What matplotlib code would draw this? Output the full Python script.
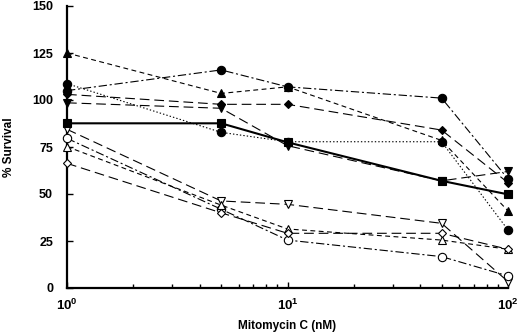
import matplotlib
matplotlib.use("Agg")
import matplotlib.pyplot as plt

# Mitomycin C dose (nM)
dose = [1, 5, 10, 50, 100]

# % survival, one list per cell line
circle_dashdot = [105, 116, 107, 101, 58]
triangle_filled = [125, 103.5, 107, 78.5, 41]
diamond_filled = [103, 97.7, 97.7, 84, 56]
tri_down_filled = [98.5, 95.6, 75.7, 57, 62]
square_filled = [87.6, 87.6, 77.5, 57, 49.8]
circle_dotted = [108.7, 82.8, 77.8, 77.8, 30.9]
tri_down_open = [84.4, 46.3, 44.5, 34.4, 3.4]
circle_open = [79.6, 41.9, 25.5, 16.7, 6.4]
triangle_open = [75.2, 44.1, 31.4, 25.5, 20.6]
diamond_open = [66.3, 40, 29.1, 29.1, 20.6]

y_ticks = [0, 25, 50, 75, 100, 125, 150]
x_ticks = [1, 10, 100]
x_tick_labels = [r"$10^{0}$", r"$10^{1}$", r"$10^{2}$"]


def main():
    plt.rcParams["font.family"] = ["Liberation Sans", "DejaVu Sans"]
    plt.rcParams["font.weight"] = "bold"
    plt.rcParams["mathtext.fontset"] = "custom"
    plt.rcParams["mathtext.rm"] = "Liberation Sans:bold"
    plt.rcParams["mathtext.bf"] = "Liberation Sans:bold"
    plt.rcParams["lines.scale_dashes"] = False

    fig = plt.figure(figsize=(5.2, 3.36), dpi=100)
    ax = fig.add_axes([67 / 520, 48 / 336, 441 / 520, 282 / 336])

    long_dash = (0, (7, 3.5))
    short_dash = (0, (3.5, 2.5))
    dash_dot = (0, (6, 2, 1.5, 2))
    dotted = (0, (1, 1.5))

    series = [
        (tri_down_open, "v", "white", long_dash, 0.8),
        (circle_open, "o", "white", dash_dot, 0.8),
        (triangle_open, "^", "white", short_dash, 0.8),
        (diamond_open, "D", "white", long_dash, 0.8),
        (square_filled, "s", "black", "solid", 1.5),
        (tri_down_filled, "v", "black", long_dash, 0.8),
        (diamond_filled, "D", "black", long_dash, 0.8),
        (triangle_filled, "^", "black", short_dash, 0.8),
        (circle_dotted, "o", "black", dotted, 0.8),
        (circle_dashdot, "o", "black", dash_dot, 0.8),
    ]
    for values, marker, face, style, lw in series:
        ms = 4.3 if marker == "D" else 6
        ax.plot(dose, values, color="black", linestyle=style, linewidth=lw,
                marker=marker, markersize=ms, markerfacecolor=face,
                markeredgecolor="black", markeredgewidth=0.8, clip_on=False,
                zorder=3)

    ax.set_xscale("log")
    ax.set_xlim(1, 100)
    ax.set_ylim(0, 150)
    ax.set_xticks(x_ticks)
    ax.set_xticklabels(x_tick_labels, fontsize=9.5)
    ax.set_yticks(y_ticks)
    ax.set_yticklabels([str(v) for v in y_ticks], fontsize=9,
                       fontweight="bold")
    ax.tick_params(axis="y", which="major", direction="in", length=4,
                   width=1, pad=10)
    ax.tick_params(axis="x", which="major", direction="in", length=4,
                   width=1, pad=7)
    ax.tick_params(axis="x", which="minor", direction="in", length=3,
                   width=1)

    for side in ["top", "right"]:
        ax.spines[side].set_visible(False)
    for side in ["left", "bottom"]:
        ax.spines[side].set_linewidth(1.6)

    ax.set_xlabel("Mitomycin C (nM)", fontsize=8.5, fontweight="bold",
                  labelpad=5)
    ax.set_ylabel("% Survival", fontsize=8.5, fontweight="bold",
                  labelpad=12)

    fig.savefig("out.png", dpi=100)


if __name__ == "__main__":
    main()
